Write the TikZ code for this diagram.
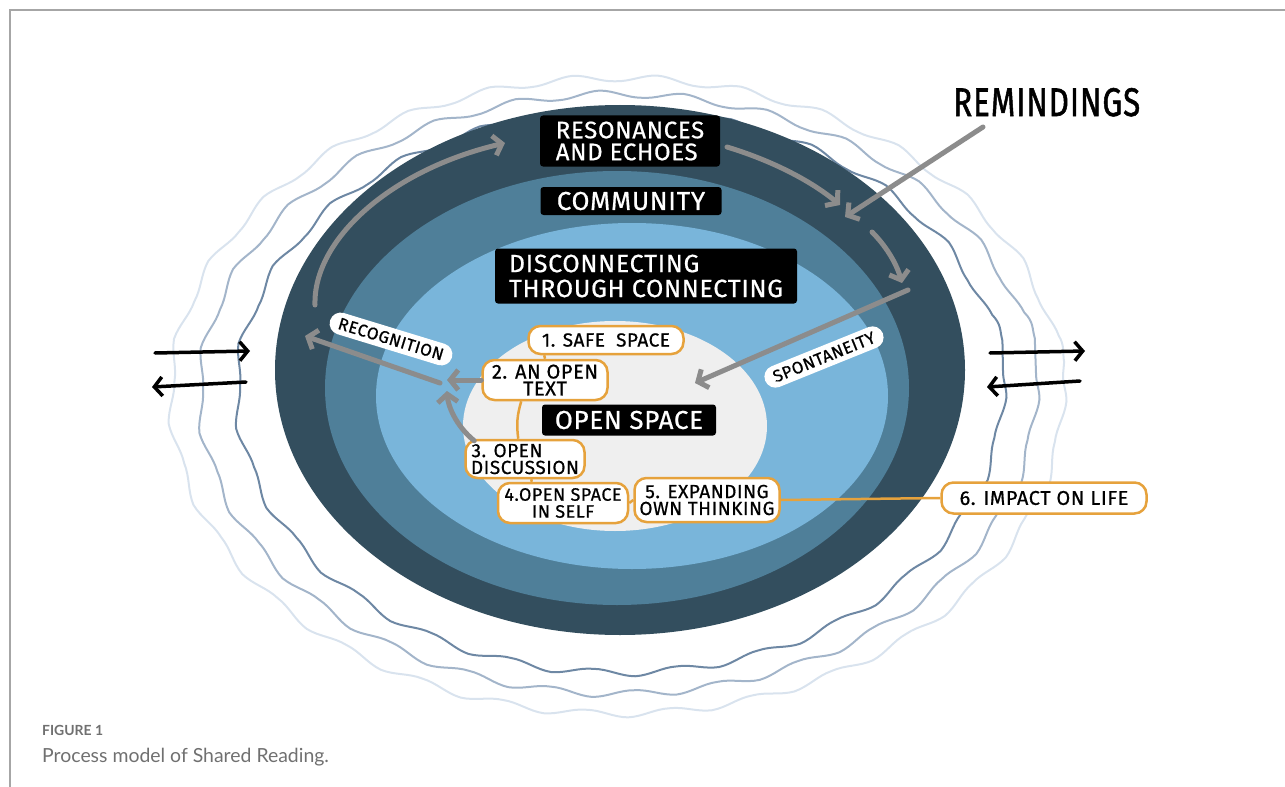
\documentclass[tikz,border=0pt]{standalone}
\usepackage{fontspec}
\setmainfont{Lato}
\newfontfamily\hand{Fira Sans}[LetterSpace=3,FakeBold=0.7]
\usetikzlibrary{arrows.meta,decorations.pathmorphing,calc}
\definecolor{ringdark}{HTML}{334E5E}
\definecolor{ringmid}{HTML}{4F7F99}
\definecolor{ringlight}{HTML}{79B5DA}
\definecolor{core}{HTML}{EFEFEF}
\definecolor{waveA}{HTML}{6E88A4}
\definecolor{waveB}{HTML}{A3B5CA}
\definecolor{waveC}{HTML}{D9E3EE}
\definecolor{amber}{HTML}{E6A23C}
\definecolor{arrowgray}{HTML}{8C8C8C}
\definecolor{framegray}{HTML}{A6A6A6}
\definecolor{captiongray}{HTML}{707070}

\begin{document}
\begin{tikzpicture}[x=1bp,y=-1bp,
  blacklabel/.style={fill=black, text=white, rounded corners=3bp,
    font=\hand\fontsize{25}{26}\selectfont, align=left,
    inner xsep=9bp, inner ysep=4bp},
  stage/.style={draw=amber, line width=2.5bp, fill=white, rounded corners=12bp,
    font=\hand\fontsize{19}{17}\selectfont, align=center,
    inner xsep=4bp, inner ysep=2bp},
  pill/.style={fill=white, rounded corners=11bp,
    font=\hand\fontsize{17}{18}\selectfont, inner xsep=9bp, inner ysep=5bp},
  flow/.style={draw=arrowgray, line width=5bp, line cap=round,
    -{Straight Barb[length=8bp,width=20bp]}},
  link/.style={draw=amber, line width=2.5bp},
  exchange/.style={draw=black, line width=3.5bp, line cap=round,
    -{Straight Barb[length=8bp,width=19bp]}},
  wave/.style={line width=2bp, decorate,
    decoration={snake, amplitude=3.5bp, segment length=84bp}},
]
\useasboundingbox (0,0) rectangle (1285,787);

% page frame
\draw[framegray, line width=1.2bp] (10,787) -- (10,10) -- (1285,10);

% wavy rings around the model
\draw[wave, waveC] (617,375) ellipse (446 and 318);
\draw[wave, waveB] (618,373) ellipse (418 and 300);
\draw[wave, waveA] (620,371) ellipse (383 and 281);

% nested spaces
\fill[ringdark]  (620,370) ellipse (345 and 265);
\fill[ringmid]   (617,388) ellipse (292 and 217);
\fill[ringlight] (632,396) ellipse (256 and 173);
\fill[core]      (615,426) ellipse (152 and 105);

% level titles
\node[blacklabel, font=\hand\fontsize{24}{22}\selectfont, minimum width=180bp, minimum height=51bp] (echoes) at (630,141) {RESONANCES\\AND ECHOES};
\node[blacklabel, font=\hand\fontsize{26}{26}\selectfont, minimum width=181bp, minimum height=28bp, inner ysep=1bp] (community) at (631,201) {COMMUNITY};
\node[blacklabel, minimum width=302bp, minimum height=55bp, font=\hand\fontsize{25}{25}\selectfont] (disconnect) at (646,276) {DISCONNECTING\\THROUGH CONNECTING};
\node[blacklabel, font=\hand\fontsize{26}{26}\selectfont, minimum width=174bp, minimum height=31bp, inner ysep=1bp] (openspace) at (629,420) {OPEN SPACE};

% movement between the levels
\coordinate (recogStart) at (315,305);
\coordinate (recogEnd) at (505,143);
\coordinate (echoStart) at (727,147);
\coordinate (echoEnd) at (840,205);
\coordinate (dropStart) at (872,232);
\coordinate (dropEnd) at (902,283);
\coordinate (spontStart) at (908,290);
\coordinate (spontEnd) at (695,383);
\coordinate (riseStart) at (440,383);
\coordinate (riseEnd) at (305,336);
\coordinate (gather) at (447,380);
\coordinate (gatherUp) at (447,391);
\coordinate (remindEnd) at (845,217);

\draw[flow] (recogStart) .. controls (313,240) and (390,170) .. (recogEnd);
\draw[flow] (echoStart) .. controls (770,160) and (810,180) .. (echoEnd);
\draw[flow] (dropStart) .. controls (885,245) and (896,262) .. (dropEnd);
\draw[flow] (spontStart) -- (spontEnd);
\draw[flow] (riseStart) -- (riseEnd);

% rotated labels
\node[pill, rotate=-17] (recognition) at (391,339) {RECOGNITION};
\node[pill, rotate=22] (spontaneity) at (824,357) {SPONTANEITY};

% stages of the reading session
\node[stage, minimum width=155bp, minimum height=28bp] (s1) at (606,340) {1. SAFE\ \ SPACE};
\node[stage, minimum width=125bp, minimum height=40bp, font=\hand\fontsize{20}{17}\selectfont] (s2) at (545,380) {2. AN OPEN\\TEXT};
\node[stage, minimum width=119bp, minimum height=38bp] (s3) at (525,459) {3. OPEN\hspace*{36bp}\\DISCUSSION};
\node[stage, minimum width=130bp, minimum height=40bp, font=\hand\fontsize{18}{17}\selectfont] (s4) at (563,503) {4.OPEN SPACE\\IN SELF};
\node[stage, minimum width=145bp, minimum height=44bp] (s5) at (707,500) {5. EXPANDING\\OWN THINKING};
\node[stage, minimum width=205bp, minimum height=31bp, font=\hand\fontsize{20}{20}\selectfont] (s6) at (1044,498) {6. IMPACT ON LIFE};

\draw[link] ($(s1.south west)+(17,0)$) -- (s2.north);
\draw[link] ($(s2.south west)+(40,0)$) to[bend right=12] ($(s3.north west)+(54,0)$);
\draw[link] ($(s3.south west)+(67,0)$) -- ($(s4.north west)+(35,0)$);
\draw[link] (s4.east) -- (s5.west);
\draw[link] (s5.east) -- (s6.west);

\draw[flow] (s2.west) -- (gather);
\draw[flow] ($(s3.north west)+(10,2)$) .. controls (455,425) and (448,405) .. (gatherUp);

% outside influence
\node[anchor=base west, inner sep=0] (remind) at (953,116) {\resizebox{187bp}{28bp}{\hand\addfontfeature{FakeBold=1.5} REMINDINGS}};
\coordinate (remindStart) at (983,127);
\draw[flow] (remindStart) -- (remindEnd);

% exchange across the boundary
\coordinate (wlInA) at (155,353);
\coordinate (wlInB) at (250,351);
\coordinate (wlOutA) at (246,382);
\coordinate (wlOutB) at (152,387);
\coordinate (erOutA) at (990,353);
\coordinate (erOutB) at (1085,351);
\coordinate (erInA) at (1080,381);
\coordinate (erInB) at (987,387);
\draw[exchange] (wlInA) -- (wlInB);
\draw[exchange] (wlOutA) -- (wlOutB);
\draw[exchange] (erOutA) -- (erOutB);
\draw[exchange] (erInA) -- (erInB);

% caption
\node[anchor=base west, inner sep=0, text=captiongray, font=\fontsize{14}{16}\selectfont\bfseries] (figno) at (42,735) {FIGURE 1};
\node[anchor=base west, inner sep=0, text=captiongray, font=\fontsize{19.5}{22}\selectfont] (caption) at (42,762) {Process model of Shared Reading.};
\end{tikzpicture}
\end{document}
